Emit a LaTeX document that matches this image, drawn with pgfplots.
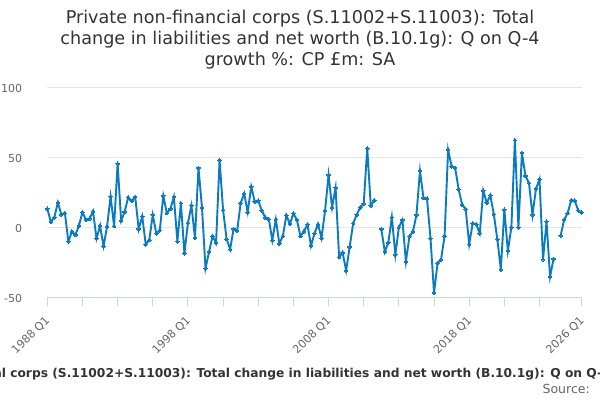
\documentclass[border=0pt]{standalone}
\usepackage{pgfplots}
\pgfplotsset{compat=1.18}
\usepackage{fontspec}
\setmainfont{DejaVu Sans}
\definecolor{titlec}{HTML}{333333}
\definecolor{tickc}{HTML}{666666}
\definecolor{gridc}{HTML}{E6E6E6}
\definecolor{axisc}{HTML}{CCD6EB}
\definecolor{linec}{RGB}{11,122,192}
\pgfplotstableread{
q v
0 13.3
1 3.9
2 7.0
3 17.7
4 9.0
5 10.2
6 -10.1
7 -3.1
8 -5.4
9 1.2
10 10.7
11 5.4
12 6.1
13 11.5
14 -8.0
15 1.1
16 -13.4
17 0.6
18 22.0
19 0.8
20 45.5
21 4.8
22 11.0
23 21.4
24 18.9
25 21.7
26 -1.2
27 7.8
28 -12.2
29 -9.1
30 8.9
31 -4.4
32 -2.1
33 22.5
34 10.1
35 13.1
36 21.7
37 -10.1
38 17.3
39 -18.5
40 3.0
41 15.5
42 -7.5
43 42.4
44 14.0
45 -29.3
46 -17.6
47 -6.3
48 -11.1
49 48.0
50 12.3
51 -8.4
52 -15.7
53 -1.1
54 -2.5
55 17.3
56 24.1
57 10.8
58 29.0
59 18.4
60 19.0
61 12.1
62 7.0
63 5.9
64 -9.3
65 5.7
66 -11.6
67 -6.3
68 8.5
69 2.4
70 9.9
71 5.3
72 -6.3
73 -2.9
74 2.0
75 -13.3
76 -4.3
77 2.2
78 -7.7
79 11.8
80 37.4
81 14.3
82 28.3
83 -21.3
84 -18.1
85 -30.9
86 -14.0
87 2.9
88 8.9
89 14.3
90 16.9
91 56.5
92 15.5
93 19.3
94 nan
95 -1.2
96 -17.6
97 -10.9
98 7.2
99 -19.6
100 0.0
101 5.3
102 -24.4
103 -6.5
104 -3.1
105 8.9
106 40.3
107 21.0
108 20.5
109 -8.0
110 -46.9
111 -25.6
112 -22.9
113 -6.3
114 55.3
115 43.5
116 42.5
117 27.1
118 16.2
119 13.0
120 -12.1
121 2.9
122 2.2
123 -4.3
124 26.1
125 17.4
126 22.9
127 9.4
128 -8.5
129 -30.2
130 12.6
131 -16.9
132 0.0
133 62.3
134 -0.2
135 53.1
136 36.7
137 31.6
138 8.9
139 27.5
140 34.3
141 -22.9
142 4.1
143 -35.3
144 -22.5
145 nan
146 -6.0
147 5.3
148 10.1
149 19.3
150 19.1
151 12.1
152 10.6
}\datatable
\begin{document}
\begin{tikzpicture}
\path[use as bounding box] (0pt,0pt) rectangle (600pt,400pt);
\begin{axis}[
  at={(47.3pt,102.7pt)}, anchor=south west,
  scale only axis, width=534.4pt, height=210pt,
  xmin=0, xmax=152, ymin=-50, ymax=100,
  axis lines*=left,
  x axis line style={draw=axisc, line width=1pt},
  y axis line style={draw=none},
  ytick={-50,0,50,100},
  ymajorgrids, grid style={draw=gridc, line width=1pt},
  xtick={0,10,20,30,40,50,60,70,80,90,100,110,120,130,140,152},
  xticklabels={1988 Q1,,,,1998 Q1,,,,2008 Q1,,,,2018 Q1,,,2026 Q1},
  tick align=outside, major tick length=9pt,
  xtick style={draw=axisc, line width=1pt},
  ytick style={draw=none},
  /pgf/number format/assume math mode=true,
  yticklabel style={font=\fontsize{11}{13}\selectfont, text=tickc, anchor=east, inner sep=0pt, xshift=-16pt, yshift=-1pt},
  xticklabel style={font=\fontsize{11.2}{13}\selectfont, text=tickc, xshift=-3pt, yshift=-8.5pt, rotate=45, anchor=north east, inner sep=0pt},
  xlabel={Private non-financial corps (S.11002+S.11003): Total change in liabilities and net worth (B.10.1g): Q on Q-4 growth \%: CP £m: SA},
  xlabel style={at={(axis description cs:0.5,0)}, anchor=base, xshift=-1.5pt, yshift=-80.5pt, inner sep=0pt, font=\fontsize{12.25}{14}\selectfont\bfseries, text=titlec},
  unbounded coords=jump,
  clip=false,
]
\addplot[color=linec, line width=1.9pt, mark=*, mark size=1.8pt, mark options={fill=linec, draw=linec, line width=0pt}] table[x=q, y=v] {\datatable};
\end{axis}
\node[anchor=base, inner sep=0pt, font=\fontsize{17.6}{21}\selectfont, text=titlec] at (300pt,376pt) {Private non-financial corps (S.11002+S.11003): Total};
\node[anchor=base, inner sep=0pt, font=\fontsize{17.6}{21}\selectfont, text=titlec] at (300pt,355.3pt) {change in liabilities and net worth (B.10.1g): Q on Q-4};
\node[anchor=base, inner sep=0pt, font=\fontsize{17.6}{21}\selectfont, text=titlec] at (300pt,334.6pt) {growth \%: CP £m: SA};
\node[anchor=base east, inner sep=0pt, font=\fontsize{12.5}{14}\selectfont, text=tickc] at (590pt,6.5pt) {Source:};
\end{tikzpicture}
\end{document}
